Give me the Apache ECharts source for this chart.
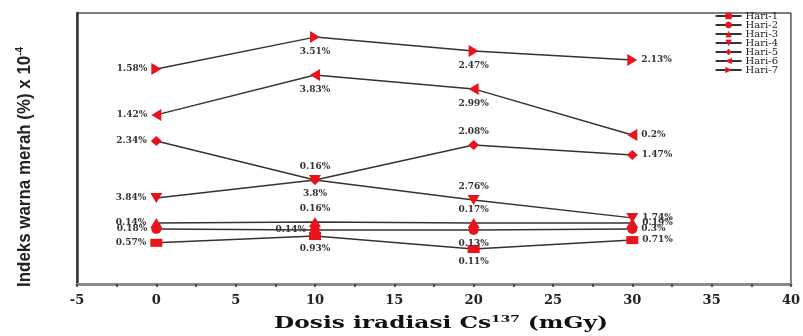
<!DOCTYPE html>
<html>
<head>
<meta charset="utf-8">
<script src="https://cdn.jsdelivr.net/npm/echarts@6/dist/echarts.min.js"></script>
<style>
  html, body { margin: 0; padding: 0; background: #fff; }
  #chart { width: 803px; height: 336px; }
</style>
</head>
<body>
<div id="chart"></div>
<script>
// dosis (mGy)
var doses = [0, 10, 20, 30];
var seriesNames = ["Hari-1", "Hari-2", "Hari-3", "Hari-4", "Hari-5", "Hari-6", "Hari-7"];

// posisi vertikal titik (skala relatif, sumbu y tanpa label)
var hari1 = [15.2, 17.7, 12.9, 16.2];
var hari2 = [20.3, 19.9, 19.9, 20.3];
var hari3 = [22.5, 22.9, 22.5, 22.5];
var hari4 = [31.7, 38.4, 31.0, 24.4];
var hari5 = [52.8, 38.4, 51.3, 47.6];
var hari6 = [62.4, 77.1, 72.0, 55.0];
var hari7 = [79.3, 91.1, 86.0, 82.7];

// teks label tiap titik
var hari1Labels = ["0.57%", "0.93%", "0.11%", "0.71%"];
var hari2Labels = ["0.18%", "0.14%", "0.13%", "0.3%"];
var hari3Labels = ["0.14%", "0.16%", "0.17%", "0.19%"];
var hari4Labels = ["3.84%", "3.8%", "2.76%", "1.74%"];
var hari5Labels = ["2.34%", "0.16%", "2.08%", "1.47%"];
var hari6Labels = ["1.42%", "3.83%", "2.99%", "0.2%"];
var hari7Labels = ["1.58%", "3.51%", "2.47%", "2.13%"];

var xTicks = [-5, 0, 5, 10, 15, 20, 25, 30, 35, 40];

var allValues = [hari1, hari2, hari3, hari4, hari5, hari6, hari7];
var allLabels = [hari1Labels, hari2Labels, hari3Labels, hari4Labels, hari5Labels, hari6Labels, hari7Labels];

// gaya: simbol & posisi label
var symbols = ["rect", "circle", "triangle", "triangle", "diamond", "triangle", "triangle"];
var symbolRotates = [0, 0, 0, 180, 0, 90, -90];
var symbolSizes = [[12, 8], 10, [12, 10], [12, 10], [11, 10], [12, 10], [12, 10]];
var labelPos = [
  ["left", "bottom", "bottom", "right"],
  ["left", "left", "bottom", "right"],
  ["left", "top", "top", "right"],
  ["left", "bottom", "top", "right"],
  ["left", "top", "top", "right"],
  ["left", "bottom", "bottom", "right"],
  ["left", "bottom", "bottom", "right"]
];

var RED = "#e8131b";
var LABEL_FONT = "DejaVu Serif";

function makeSeries(i) {
  var data = doses.map(function (d, j) {
    return {
      value: [d, allValues[i][j]],
      label: { position: labelPos[i][j], formatter: allLabels[i][j] }
    };
  });
  return {
    name: seriesNames[i],
    type: "line",
    data: data,
    symbol: symbols[i],
    symbolRotate: symbolRotates[i],
    symbolSize: symbolSizes[i],
    itemStyle: { color: RED },
    lineStyle: { color: "#333", width: 1.5 },
    label: {
      show: true,
      distance: 4,
      color: "#333",
      fontFamily: LABEL_FONT,
      fontWeight: "bold",
      fontSize: 9
    },
    animation: false,
    z: 3
  };
}

var myChart = echarts.init(document.getElementById("chart"));
var option = {
  backgroundColor: "#fff",
  animation: false,
  grid: {
    left: 77, right: 12, top: 13, bottom: 52,
    show: true, borderColor: "#000", borderWidth: 1
  },
  legend: {
    orient: "vertical",
    right: 20,
    top: 6,
    itemWidth: 26,
    itemHeight: 8,
    itemGap: -1,
    data: seriesNames,
    textStyle: { fontFamily: "DejaVu Serif", fontSize: 10, color: "#222", padding: [0, 0, 0, -1] }
  },
  xAxis: {
    type: "value",
    min: xTicks[0],
    max: xTicks[xTicks.length - 1],
    interval: 5,
    axisLine: { show: true, lineStyle: { color: "#8a8a8a", width: 3 } },
    axisTick: { show: true, length: 3, lineStyle: { color: "#333", width: 1.5 } },
    minorTick: { show: true, splitNumber: 2, length: 3, lineStyle: { color: "#333", width: 1.5 } },
    axisLabel: { fontFamily: "DejaVu Serif", fontWeight: "bold", fontSize: 13, color: "#222", margin: 10 },
    splitLine: { show: false }
  },
  yAxis: {
    type: "value",
    min: 0,
    max: 100,
    axisLine: { show: true, onZero: false, lineStyle: { color: "#333", width: 2.5 } },
    axisTick: { show: false },
    axisLabel: { show: false },
    splitLine: { show: false }
  },
  graphic: [{
    // judul sumbu y (teks sempit)
    type: "text",
    x: 25,
    y: 167,
    rotation: Math.PI / 2,
    scaleX: 0.89,
    style: {
      text: "{n|Indeks warna merah (%) x 10}{s|-4}",
      align: "center",
      verticalAlign: "middle",
      rich: {
        n: { fontFamily: "Liberation Sans", fontWeight: "bold", fontSize: 19, fill: "#222" },
        s: { fontFamily: "Liberation Sans", fontWeight: "bold", fontSize: 11, fill: "#222", verticalAlign: "top", padding: [0, 0, 10, 0] }
      }
    }
  }, {
    // judul sumbu x (teks lebar)
    type: "text",
    x: 441,
    y: 324,
    scaleX: 1.37,
    style: {
      text: "{b|Dosis iradiasi Cs}{s|137}{b| (mGy)}",
      align: "center",
      verticalAlign: "middle",
      rich: {
        b: { fontFamily: "DejaVu Serif", fontWeight: "bold", fontSize: 17, fill: "#111" },
        s: { fontFamily: "DejaVu Serif", fontWeight: "bold", fontSize: 10, fill: "#111", verticalAlign: "top", padding: [0, 0, 10, 0] }
      }
    }
  }],
  series: seriesNames.map(function (n, i) { return makeSeries(i); })
};
myChart.setOption(option);
</script>
</body>
</html>
